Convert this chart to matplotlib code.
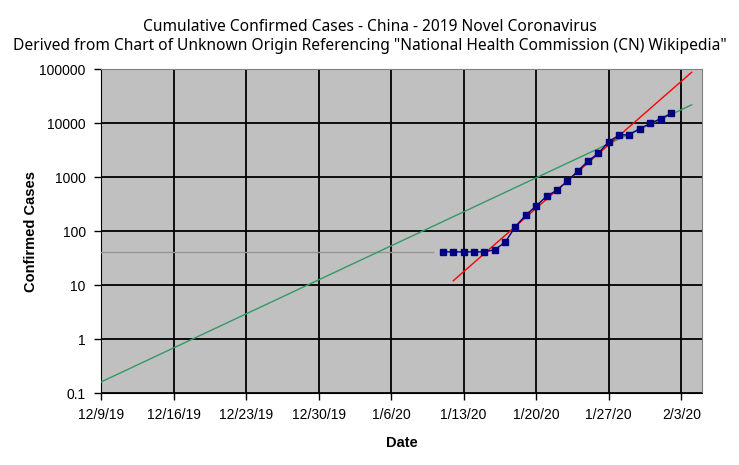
import numpy as np
import matplotlib
matplotlib.use("Agg")
import matplotlib.pyplot as plt

# confirmed cases
case_dates = np.arange(np.datetime64("2020-01-11"), np.datetime64("2020-02-03"))
cases = [41, 41, 41, 41, 41, 45, 62, 121, 198, 291, 440, 571, 830, 1287,
         1975, 2744, 4515, 5974, 6100, 7900, 9800, 12000, 15000]

# flat grey line at 41 before the data starts
grey_dates = np.array(["2019-12-09", "2020-01-10"], dtype="datetime64[D]")
grey_vals = [41, 41]

# red trend line (end points)
red_dates = np.array(["2020-01-12", "2020-02-04"], dtype="datetime64[D]")
red_vals = [12, 87000]

# green trend line (end points)
green_dates = np.array(["2019-12-09", "2020-02-04"], dtype="datetime64[D]")
green_vals = [0.16, 21700]

tick_dates = np.arange(np.datetime64("2019-12-09"), np.datetime64("2020-02-04"), 7)
tick_labels = ["12/9/19", "12/16/19", "12/23/19", "12/30/19", "1/6/20",
               "1/13/20", "1/20/20", "1/27/20", "2/3/20"]
y_ticks = [0.1, 1, 10, 100, 1000, 10000, 100000]
y_labels = ["0.1", "1", "10", "100", "1000", "10000", "100000"]

fig = plt.figure(figsize=(7.39, 4.65), dpi=100)
ax = fig.add_axes([101 / 739, 1 - 393 / 465, 601 / 739, 324 / 465])
ax.set_facecolor("#C0C0C0")

ax.plot(grey_dates, grey_vals, color="#969696", lw=1.0, zorder=3)
ax.plot(green_dates, green_vals, color="#339966", lw=1.0, zorder=3)
ax.plot(red_dates, red_vals, color="#FF0000", lw=1.0, zorder=4)
ax.plot(case_dates, cases, color="#000080", lw=1.0, marker="s", ms=4.6,
        mfc="#000080", mec="#000080", zorder=5)

ax.set_yscale("log")
ax.set_ylim(0.1, 100000)
ax.set_xlim(np.datetime64("2019-12-09"), np.datetime64("2020-02-05"))
ax.set_yticks(y_ticks)
ax.set_yticklabels(y_labels)
ax.yaxis.set_minor_locator(matplotlib.ticker.NullLocator())
ax.set_xticks(tick_dates)
ax.set_xticklabels(tick_labels)

ax.grid(True, color="black", lw=1.3, zorder=1)
ax.set_axisbelow(True)
for s in ["top", "right"]:
    ax.spines[s].set_color("#808080")
for s in ["left", "bottom"]:
    ax.spines[s].set_color("black")
ax.tick_params(direction="out", length=5, width=1, color="black",
               labelsize=10, pad=6)
for lab in ax.get_xticklabels() + ax.get_yticklabels():
    lab.set_fontfamily("Liberation Sans")

ax.set_xlabel("Date", fontsize=10.5, fontweight="bold",
              fontfamily="Liberation Sans", labelpad=10)
ax.set_ylabel("Confirmed Cases", fontsize=10.5, fontweight="bold",
              fontfamily="Liberation Sans", labelpad=1)

fig.text(0.5, 0.96, "Cumulative Confirmed Cases - China - 2019 Novel Coronavirus\n"
         "Derived from Chart of Unknown Origin Referencing \"National Health Commission (CN) Wikipedia\"",
         ha="center", va="top", fontsize=11.2, fontfamily="Noto Sans", linespacing=1.25)

fig.savefig("out.png", dpi=100)
